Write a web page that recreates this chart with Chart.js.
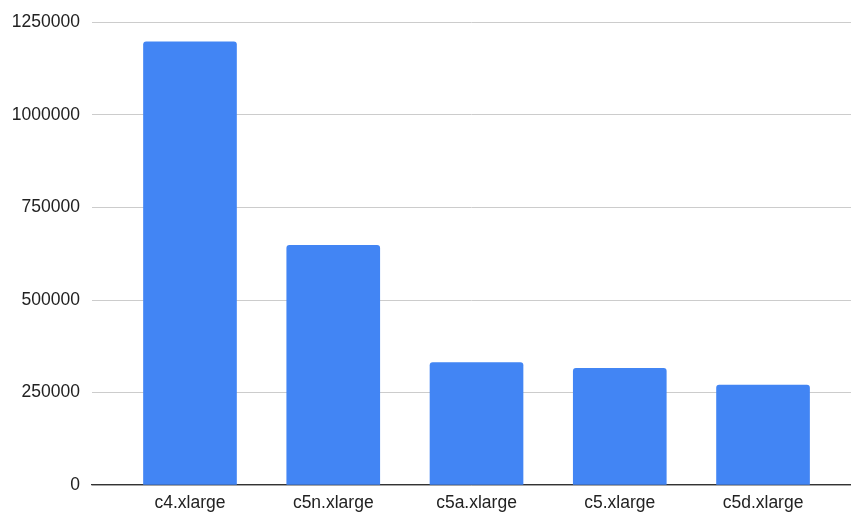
<!DOCTYPE html>
<html>
<head>
<meta charset="utf-8">
<script src="https://cdn.jsdelivr.net/npm/chart.js@4/dist/chart.umd.min.js"></script>
<style>
  html, body { margin: 0; padding: 0; background: #fff; }
  #wrap { width: 851px; height: 518px; position: relative; }
</style>
</head>
<body>
<div id="wrap"><canvas id="c"></canvas></div>
<script>
const categories = ["c4.xlarge", "c5n.xlarge", "c5a.xlarge", "c5.xlarge", "c5d.xlarge"];
const values = [1198000, 648000, 331000, 315000, 270000];
const yTicks = [0, 250000, 500000, 750000, 1000000, 1250000];

const FONT = { family: "'Liberation Sans', Arial, sans-serif", size: 17.5 };

new Chart(document.getElementById('c'), {
  type: 'bar',
  data: {
    datasets: [{
      data: values.map((v, i) => ({ x: i, y: v })),
      backgroundColor: '#4285F4',
      borderWidth: 0,
      borderRadius: { topLeft: 3, topRight: 3, bottomLeft: 0, bottomRight: 0 },
      borderSkipped: 'bottom',
      barThickness: 93
    }]
  },
  options: {
    responsive: true,
    maintainAspectRatio: false,
    animation: false,
    layout: { padding: { top: 18, right: 0, left: 0, bottom: 0 } },
    plugins: { legend: { display: false }, tooltip: { enabled: false } },
    scales: {
      x: {
        type: 'linear',
        offset: false,
        min: -0.684,
        max: 4.614,
        afterBuildTicks: (s) => { s.ticks = categories.map((_, i) => ({ value: i })); },
        afterFit: (s) => { s.height = 33; },
        ticks: {
          autoSkip: false,
          maxRotation: 0,
          padding: 8,
          color: '#222',
          font: FONT,
          callback: (v) => categories[v] ?? ''
        },
        grid: { display: false, drawTicks: false, offset: false },
        border: { display: true, color: '#333', width: 1.3 }
      },
      y: {
        min: 0,
        max: yTicks[yTicks.length - 1],
        afterBuildTicks: (s) => { s.ticks = yTicks.map(v => ({ value: v })); },
        afterFit: (s) => { s.width = 92; },
        ticks: {
          padding: 12,
          color: '#222',
          font: FONT,
          callback: (v) => String(v)
        },
        grid: { color: '#cccccc', lineWidth: 1, drawTicks: false },
        border: { display: false }
      }
    }
  }
});
</script>
</body>
</html>
